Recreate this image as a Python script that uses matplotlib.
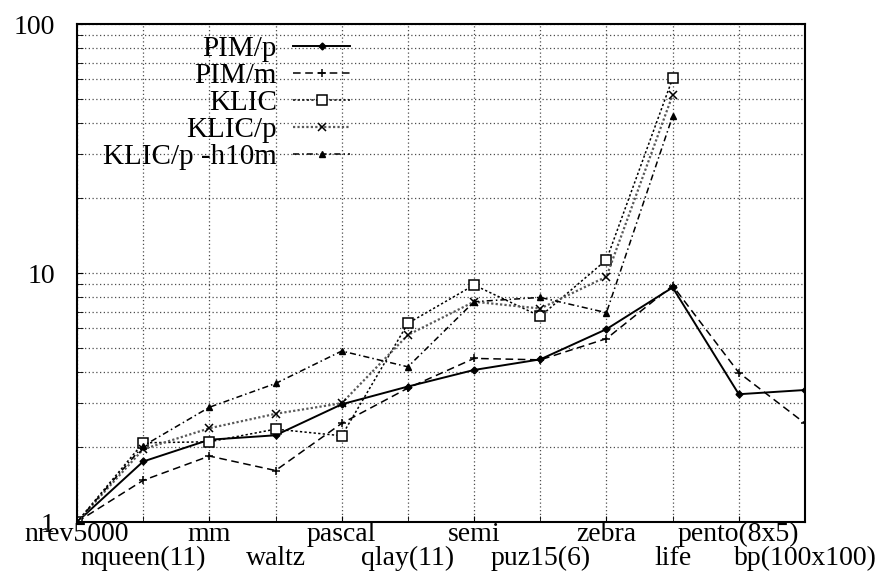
import numpy as np
import matplotlib
matplotlib.use("Agg")
import matplotlib.pyplot as plt
from matplotlib.ticker import FixedLocator, NullFormatter

plt.rcParams['font.family'] = ['Liberation Serif', 'DejaVu Serif']

# benchmark names along the x axis
programs = ["nrev5000", "nqueen(11)", "mm", "waltz", "pascal", "qlay(11)",
            "semi", "puz15(6)", "zebra", "life", "pento(8x5)", "bp(100x100)"]

# speedup values (log scale)
pim_p = [1.0, 1.75, 2.14, 2.23, 2.97, 3.5, 4.08, 4.5, 5.95, 8.75, 3.26, 3.39]
pim_m = [1.0, 1.47, 1.84, 1.61, 2.49, 3.45, 4.54, 4.48, 5.45, 8.9, 3.98, 2.49]
klic = [1.0, 2.08, 2.1, 2.36, 2.22, 6.28, 8.95, 6.7, 11.3, 60.5]
klic_p = [1.0, 1.96, 2.38, 2.72, 3.0, 5.64, 7.67, 7.2, 9.67, 51.9]
klic_h10m = [1.0, 2.02, 2.89, 3.6, 4.86, 4.2, 7.67, 7.98, 6.93, 42.7]

fig = plt.figure(figsize=(8.82, 5.72), dpi=100)
ax = fig.add_axes([0.0873, 0.0874, 0.8254, 0.8706])

x_all = np.arange(len(programs))
ax.plot(x_all, pim_p, color="black", lw=1.4, ls="-", marker="D", ms=3.5, label="PIM/p")
ax.plot(x_all, pim_m, color="black", lw=1.1, ls=(0, (5, 3)), marker="+", ms=6, mew=1.1, label="PIM/m")
ax.plot(x_all[:len(klic)], klic, color="black", lw=1.1, ls=(0, (1.5, 1.5)), marker="s", ms=7,
        mfc="white", mew=1.1, label="KLIC")
ax.plot(x_all[:len(klic_p)], klic_p, color="0.35", lw=1.6, ls=(0, (1, 1)), marker="x", ms=6,
        mec="black", mew=1.1, label="KLIC/p")
ax.plot(x_all[:len(klic_h10m)], klic_h10m, color="black", lw=1.1, ls=(0, (4, 2, 1, 2)), marker="^", ms=5,
        label="KLIC/p -h10m")

ax.set_yscale("log")
ax.set_ylim(1, 100)
ax.set_xlim(0, 11)
ax.set_yticks([1, 10, 100], labels=["1", "10", "100"])
ax.yaxis.set_minor_locator(FixedLocator([v * d for d in (1, 10) for v in range(2, 10)]))
ax.yaxis.set_minor_formatter(NullFormatter())

even = x_all[0::2]
odd = x_all[1::2]
ax.set_xticks(even, labels=programs[0::2])
ax.set_xticks(odd, labels=programs[1::2], minor=True)
ax.tick_params(axis="x", which="major", pad=0, labelsize=20, direction="in", length=4)
ax.tick_params(axis="x", which="minor", pad=17, labelsize=20, direction="in", length=4)
ax.tick_params(axis="y", which="both", labelsize=20, direction="in", length=4, pad=16)

ax.grid(True, which="both", axis="both", color="0.3", ls=(0, (1, 2)), lw=0.9)

for s in ax.spines.values():
    s.set_linewidth(1.5)

ax.legend(loc="upper right", bbox_to_anchor=(0.410, 0.958), bbox_transform=fig.transFigure,
          frameon=False, markerfirst=False, fontsize=21, handlelength=1.95, labelspacing=0.02,
          handletextpad=0.55, borderaxespad=0.0)

fig.savefig("out.png", dpi=100)
